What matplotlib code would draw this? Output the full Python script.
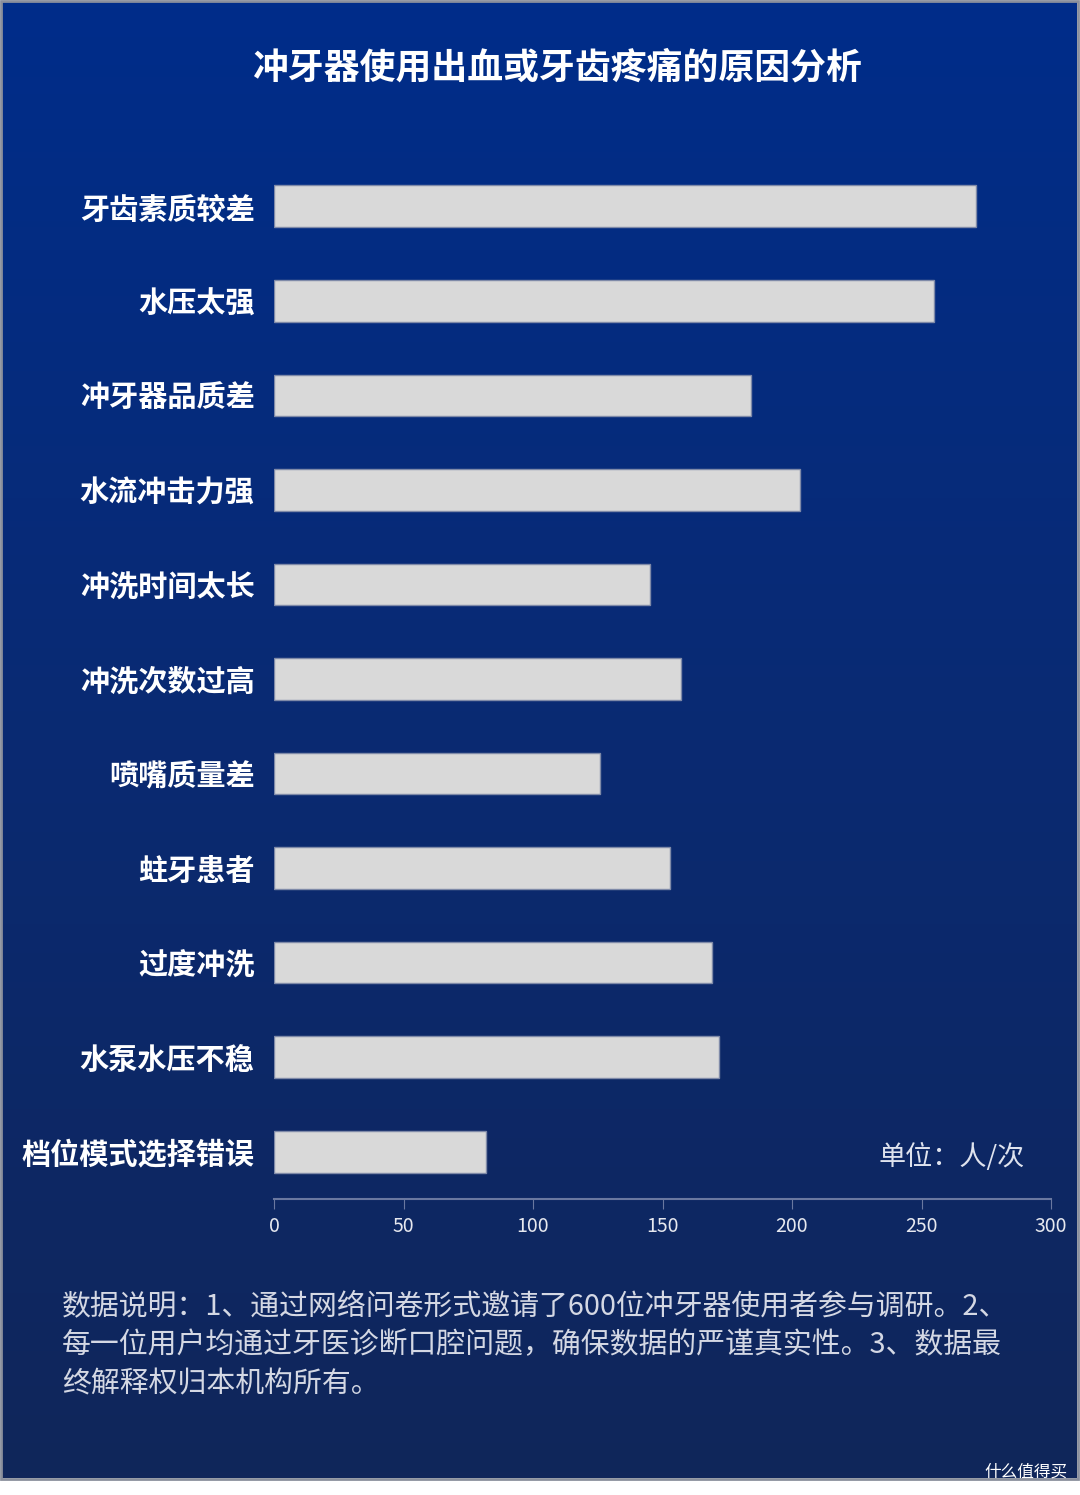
import matplotlib
matplotlib.use("Agg")
import matplotlib.pyplot as plt
import numpy as np
from matplotlib.colors import LinearSegmentedColormap
from matplotlib.patches import Rectangle

plt.rcParams['font.family'] = ['Noto Sans CJK SC', 'DejaVu Sans']

# data
categories = ['牙齿素质较差', '水压太强', '冲牙器品质差', '水流冲击力强', '冲洗时间太长',
              '冲洗次数过高', '喷嘴质量差', '蛀牙患者', '过度冲洗', '水泵水压不稳', '档位模式选择错误']
values = [271, 255, 184, 203, 145, 157, 126, 153, 169, 172, 82]
xticks = [0, 50, 100, 150, 200, 250, 300]

title = '冲牙器使用出血或牙齿疼痛的原因分析'
unit = '单位：人/次'
note = ('数据说明：1、通过网络问卷形式邀请了600位冲牙器使用者参与调研。2、\n'
        '每一位用户均通过牙医诊断口腔问题，确保数据的严谨真实性。3、数据最\n'
        '终解释权归本机构所有。')

W, H = 1080, 1495
fig = plt.figure(figsize=(W / 100, H / 100), dpi=100)
fig.patch.set_facecolor('white')

# background gradient panel
bg = fig.add_axes([0, 0, 1, 1])
bg.set_xlim(0, W)
bg.set_ylim(H, 0)
bg.axis('off')
cmap = LinearSegmentedColormap.from_list('bg', ['#002d8a', '#0a2a72', '#10265a'])
grad = np.linspace(0, 1, 256).reshape(-1, 1)
bg.imshow(grad, cmap=cmap, extent=[2, 1077, 1478, 2], aspect='auto', zorder=0)
bg.add_patch(Rectangle((1, 1), 1077, 1478, fill=False, edgecolor='#8a8f9c', lw=2, zorder=1))

fig.text(557 / W, 1 - 68 / H, title, color='white', fontsize=25.8, fontweight='bold',
         ha='center', va='center')

ax = fig.add_axes([274 / W, (H - 1199) / H, 777 / W, 1040 / H])
ax.set_facecolor('none')
y = np.arange(len(categories))
ax.barh(y, values, height=0.44, color='#d9d9d9', edgecolor='#7f8aa8', linewidth=1)
ax.set_xlim(0, 300)
ax.set_ylim(len(categories) - 0.5, -0.5)
ax.set_xticks(xticks)
ax.set_xticklabels([str(t) for t in xticks], color='#e6e8ef', fontsize=14)
ax.set_yticks(y)
ax.set_yticklabels(categories, color='white', fontsize=21, fontweight='bold', va='center_baseline')
ax.tick_params(axis='y', length=0, pad=14)
ax.tick_params(axis='x', length=7, color='#6a78a0', pad=5)
for s in ['top', 'right', 'left']:
    ax.spines[s].set_visible(False)
ax.spines['bottom'].set_color('#6a78a0')
ax.spines['bottom'].set_linewidth(1.5)

fig.text(1025 / W, 1 - 1157 / H, unit, color='#dfe3ee', fontsize=19.5, ha='right', va='center')

fig.text(62 / W, 1 - 1345 / H, note, color='#d4d8e4', fontsize=20.8, ha='left', va='center',
         linespacing=1.4)

fig.text(1068 / W, 1 - 1472 / H, '什么值得买', color='white', fontsize=12, ha='right', va='center')

fig.savefig('out.png', dpi=100, facecolor=fig.get_facecolor())
